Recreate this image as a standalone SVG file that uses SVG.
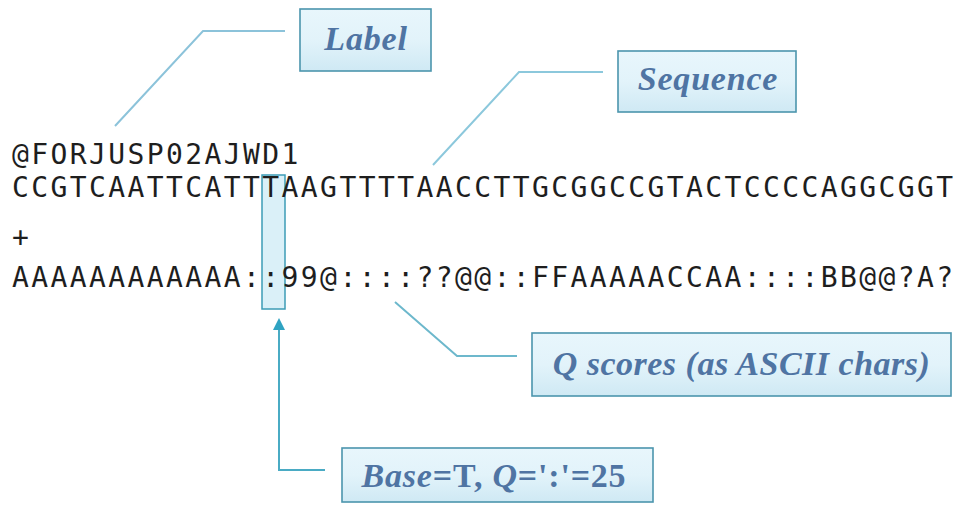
<svg xmlns="http://www.w3.org/2000/svg" width="959" height="507" viewBox="0 0 959 507">
  <defs>
    <linearGradient id="boxFill" x1="0" y1="0" x2="0" y2="1">
      <stop offset="0" stop-color="#e8f6fc"/>
      <stop offset="0.5" stop-color="#e2f3fa"/>
      <stop offset="1" stop-color="#cfe9f4"/>
    </linearGradient>
    <marker id="arrow" markerWidth="12" markerHeight="12" refX="6" refY="6" orient="auto" markerUnits="userSpaceOnUse" viewBox="0 0 12 12">
      <path d="M0,0 L12,6 L0,12 z" fill="#2fa3c2"/>
    </marker>
  </defs>
  <style>
    .seq { font-family: "DejaVu Sans Mono", "Liberation Mono", monospace; font-size: 28px; fill: #1e1e1e; letter-spacing: 2.4px; }
    .box { fill: url(#boxFill); stroke: #4b95ad; stroke-width: 1.6; }
    .lbl { font-family: "Liberation Serif", "Times New Roman", serif; font-size: 34px; font-weight: bold; font-style: italic; fill: #4f74a3; letter-spacing: 0.8px; }
    .up { font-style: normal; }
    .conn { fill: none; stroke-width: 2; }
  </style>
  <rect width="959" height="507" fill="#ffffff"/>

  <g id="highlight">
    <rect x="262" y="175" width="23" height="134" fill="#cdebf6" fill-opacity="0.75" stroke="#3d9cb6" stroke-width="1.5"/>
  </g>

  <g id="record">
    <text class="seq" x="12" y="164">@FORJUSP02AJWD1</text>
    <text class="seq" x="12" y="197">CCGTCAATTCATTTAAGTTTTAACCTTGCGGCCGTACTCCCCAGGCGGT</text>
    <text class="seq" x="12" y="247">+</text>
    <text class="seq" x="12" y="287">AAAAAAAAAAAA::99@::::??@@::FFAAAAACCAA::::BB@@?A?</text>
  </g>

  <g id="connectors">
    <polyline class="conn" points="115,126 203,31 285,31" stroke="#8cc3da"/>
    <polyline class="conn" points="433,165 519,72 603,72" stroke="#8cc8dc"/>
    <polyline class="conn" points="395,302 457,356 517,356" stroke="#6db8cc" stroke-width="2.5"/>
    <polyline class="conn" points="325,470 279,470 279,324" stroke="#4aabc4" stroke-width="2.5" marker-end="url(#arrow)"/>
  </g>

  <g id="label-box">
    <rect class="box" x="300" y="9" width="131" height="62"/>
    <text class="lbl" x="366" y="50" text-anchor="middle">Label</text>
  </g>

  <g id="sequence-box">
    <rect class="box" x="618" y="51" width="178" height="61"/>
    <text class="lbl" x="708" y="90" text-anchor="middle">Sequence</text>
  </g>

  <g id="qscores-box">
    <rect class="box" x="532" y="333" width="419" height="63"/>
    <text class="lbl" x="741.5" y="375" text-anchor="middle" style="letter-spacing:0.5px">Q scores (as ASCII chars)</text>
  </g>

  <g id="base-box">
    <rect class="box" x="342" y="448" width="311" height="54"/>
    <text class="lbl" x="494" y="487" text-anchor="middle">Base<tspan class="up">=T, </tspan>Q<tspan class="up">=':'=25</tspan></text>
  </g>
</svg>
